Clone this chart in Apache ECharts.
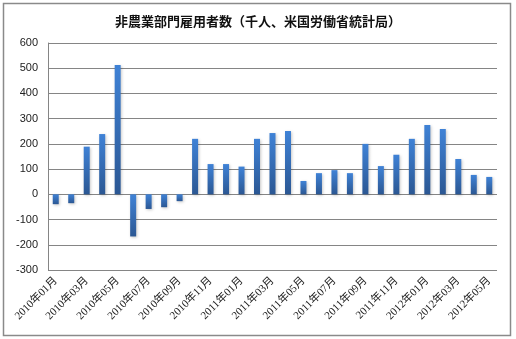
<!DOCTYPE html>
<html>
<head>
<meta charset="utf-8">
<script src="https://cdn.jsdelivr.net/npm/echarts@6/dist/echarts.min.js"></script>
<style>
  html, body { margin: 0; padding: 0; background: #fff; }
  #chart { width: 516px; height: 339px; }
</style>
</head>
<body>
<div id="chart"></div>
<script>
// Monthly nonfarm payroll change, thousands
const months = [
  '2010年01月','2010年02月','2010年03月','2010年04月','2010年05月','2010年06月',
  '2010年07月','2010年08月','2010年09月','2010年10月','2010年11月','2010年12月',
  '2011年01月','2011年02月','2011年03月','2011年04月','2011年05月','2011年06月',
  '2011年07月','2011年08月','2011年09月','2011年10月','2011年11月','2011年12月',
  '2012年01月','2012年02月','2012年03月','2012年04月','2012年05月'
];
const payrolls = [
  -39, -35, 189, 239, 513, -167,
  -58, -51, -27, 220, 120, 120,
  110, 220, 243, 251, 53, 84,
  96, 84, 200, 112, 157, 220,
  275, 259, 140, 77, 69
];
const yTicks = { min: -300, max: 600, step: 100 };

const chart = echarts.init(document.getElementById('chart'), null, { renderer: 'canvas' });

chart.setOption({
  animation: false,
  backgroundColor: '#ffffff',
  title: {
    text: '非農業部門雇用者数（千人、米国労働省統計局）',
    left: 'center',
    top: 10,
    textStyle: {
      fontFamily: '"Noto Sans CJK JP", sans-serif',
      fontSize: 13,
      fontWeight: 'bold',
      color: '#111'
    }
  },
  graphic: [{
    type: 'rect',
    shape: { x: 3.5, y: 3.5, width: 507, height: 332 },
    style: { fill: 'none', stroke: '#8a8a8a', lineWidth: 1.5 },
    silent: true,
    z: -1
  }],
  grid: { left: 48, right: 19, top: 43, bottom: 69, containLabel: false },
  xAxis: {
    type: 'category',
    data: months,
    axisLine: { show: false },
    axisTick: { show: false },
    axisLabel: {
      interval: 1,
      rotate: 45,
      margin: 9,
      fontFamily: '"Liberation Serif", "Noto Sans CJK JP", serif',
      fontSize: 11,
      color: '#222'
    },
    splitLine: { show: false }
  },
  yAxis: {
    type: 'value',
    min: yTicks.min,
    max: yTicks.max,
    interval: yTicks.step,
    axisLine: { show: true, lineStyle: { color: '#858585', width: 1 } },
    axisTick: { show: false },
    axisLabel: {
      margin: 10,
      fontFamily: '"Liberation Sans", Arial, sans-serif',
      fontSize: 11,
      color: '#222'
    },
    splitLine: { show: true, lineStyle: { color: '#858585', width: 1 } }
  },
  series: [{
    type: 'bar',
    data: payrolls,
    barWidth: 6,
    itemStyle: {
      color: new echarts.graphic.LinearGradient(0, 0, 0, 1, [
        { offset: 0, color: '#3f82d6' },
        { offset: 1, color: '#2b5793' }
      ]),
      shadowColor: 'rgba(0,0,0,0.22)',
      shadowBlur: 3,
      shadowOffsetX: 1,
      shadowOffsetY: 1
    }
  }]
});
</script>
</body>
</html>
